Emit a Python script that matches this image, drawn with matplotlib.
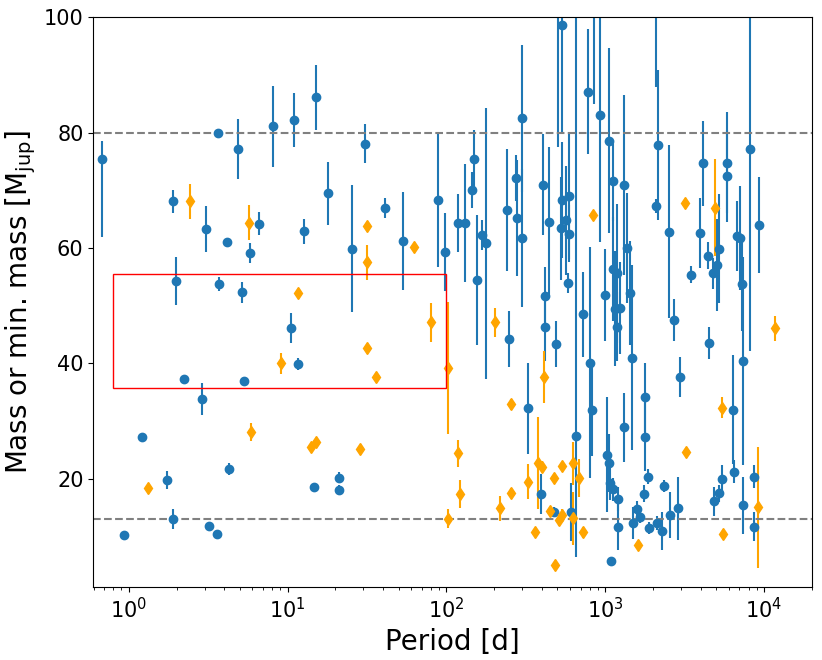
import numpy as np
import matplotlib
matplotlib.use("Agg")
import matplotlib.pyplot as plt
from matplotlib.patches import Rectangle

# companions with a measured mass (blue) -- period [d], mass [Mjup], lower/upper error
blue_period = [0.675, 1.89, 3.06, 4.15, 3.66, 4.89, 6.61, 5.82, 8.05, 11.0,
               15.1, 17.9, 12.7, 30.6, 25.3, 40.9, 53.1, 88.2, 98.4, 1.98,
               3.68, 5.18, 10.5, 11.7, 2.22, 5.29, 2.90, 1.22, 4.27, 1.75,
               14.6, 21.2, 21.2, 1.89, 0.94, 3.20, 3.58,
               119, 131, 149, 146, 157, 167, 177, 240, 276, 278,
               301, 301, 249, 325, 408, 443, 416, 416, 396, 476,
               490, 537, 507, 534, 527, 566, 594, 594, 581, 655,
               612, 725, 783, 850, 806, 832, 923, 997, 1022, 1061,
               1077, 1128, 1205, 1210, 1083, 1052, 1119, 1312, 1377, 1153,
               1245, 1186, 1125, 1181, 1443, 1485, 1312, 1773, 1773, 1490,
               1592, 1656, 1762, 1868, 1900, 2110, 2289, 2356, 2558, 2885,
               2088, 2142, 2080, 2523, 2700, 2958, 3468, 3936, 4147, 4460,
               4485, 4797, 5083, 5229, 4820, 5207, 5463, 5870, 5870, 6790,
               7093, 6350, 6500, 7340, 7263, 7375, 8200, 8690, 8690, 9340]
blue_mass = [75.5, 68.1, 63.3, 61.0, 80.0, 77.1, 64.2, 59.1, 81.1, 82.2,
             86.1, 69.5, 62.9, 78.1, 59.9, 66.9, 61.3, 68.3, 59.3, 54.3,
             53.8, 52.3, 46.1, 39.9, 37.3, 36.9, 33.8, 27.3, 21.7, 19.8,
             18.6, 20.2, 18.1, 13.0, 10.2, 11.9, 10.5,
             64.3, 64.3, 75.4, 70.0, 54.5, 62.2, 60.8, 66.6, 72.2, 65.2,
             82.5, 61.7, 44.2, 32.2, 71.0, 64.5, 51.7, 46.4, 17.4, 14.3,
             43.3, 98.7, 104, 68.3, 63.4, 64.8, 69.1, 62.5, 53.9, 27.5,
             14.3, 48.5, 87.1, 105, 40.1, 32.0, 83.0, 51.9, 24.2, 22.7,
             19.3, 18.2, 16.5, 11.6, 5.8, 78.6, 71.7, 70.9, 60.0, 49.5,
             49.6, 46.4, 56.3, 55.6, 52.2, 41.0, 28.9, 34.1, 27.3, 12.3,
             14.7, 13.4, 17.4, 20.4, 11.5, 12.4, 11.0, 18.8, 13.7, 14.9,
             67.3, 77.8, 108, 62.8, 47.5, 37.7, 55.4, 62.6, 74.7, 58.7,
             43.5, 55.6, 57.1, 59.9, 16.1, 17.5, 19.9, 74.8, 72.5, 62.1,
             61.7, 32.0, 21.2, 40.4, 53.7, 15.4, 77.1, 20.4, 11.7, 64.0]
blue_err_lo = [13.6, 2.0, 4.0, 0.6, 0.5, 5.2, 2.0, 1.7, 7.0, 4.6,
               5.7, 5.5, 2.2, 3.4, 11.0, 1.7, 8.5, 11.6, 6.8, 4.2,
               1.2, 1.8, 2.6, 1.0, 0.6, 0.8, 2.8, 0.3, 1.0, 1.6,
               0.3, 1.0, 0.8, 1.7, 0.3, 0.3, 0.3,
               5.0, 10.2, 5.0, 3.1, 11.3, 2.6, 23.5, 10.5, 4.0, 10.0,
               12.7, 12.0, 4.9, 7.9, 8.8, 13.0, 5.0, 6.0, 3.5, 0.8,
               4.0, 19.0, 26.5, 10.0, 9.0, 9.4, 11.0, 5.0, 1.7, 21.0,
               5.0, 7.4, 10.8, 20.0, 20.0, 8.0, 22.0, 8.0, 10.0, 5.0,
               3.0, 2.0, 2.0, 4.0, 0.3, 16.0, 7.0, 15.6, 9.5, 10.0,
               8.0, 6.0, 9.0, 12.0, 9.0, 16.0, 6.0, 6.0, 6.0, 2.8,
               1.5, 1.0, 1.5, 1.3, 1.0, 1.2, 3.3, 1.0, 4.0, 5.5,
               1.2, 13.0, 20.0, 15.0, 3.6, 3.5, 1.5, 6.0, 7.4, 2.4,
               2.8, 2.7, 8.0, 9.4, 2.5, 1.5, 2.5, 8.8, 8.0, 6.0,
               9.0, 9.4, 2.0, 18.0, 8.0, 5.0, 35.0, 2.0, 2.5, 8.4]
blue_err_hi = [3.0, 2.0, 4.0, 0.6, 0.5, 5.2, 2.0, 1.7, 7.0, 4.6,
               5.7, 5.5, 2.2, 3.4, 11.0, 1.7, 8.5, 11.6, 6.8, 4.2,
               1.2, 1.8, 2.6, 1.0, 0.6, 0.8, 2.8, 0.3, 1.0, 1.6,
               0.3, 1.0, 0.8, 1.7, 0.3, 0.3, 0.3,
               5.0, 10.2, 5.0, 3.1, 11.3, 2.6, 23.5, 10.5, 4.0, 10.0,
               12.7, 12.0, 4.9, 7.9, 8.8, 13.0, 5.0, 6.0, 3.5, 0.8,
               4.0, 19.0, 26.5, 10.0, 9.0, 9.4, 11.0, 5.0, 1.7, 75.0,
               5.0, 7.4, 10.8, 20.0, 20.0, 8.0, 22.0, 8.0, 10.0, 5.0,
               3.0, 2.0, 2.0, 4.0, 0.3, 16.0, 7.0, 15.6, 9.5, 10.0,
               8.0, 6.0, 9.0, 12.0, 9.0, 16.0, 6.0, 6.0, 6.0, 2.8,
               1.5, 1.0, 1.5, 1.3, 1.0, 1.2, 3.3, 1.0, 4.0, 5.5,
               1.2, 13.0, 20.0, 15.0, 3.6, 3.5, 1.5, 6.0, 7.4, 2.4,
               2.8, 2.7, 8.0, 9.4, 2.5, 1.5, 2.5, 8.8, 8.0, 6.0,
               9.0, 9.4, 2.0, 18.0, 8.0, 5.0, 35.0, 2.0, 2.5, 8.4]

# companions with only a minimum mass (orange)
orange_period = [2.43, 5.71, 31.6, 31.6, 62.8, 11.6, 9.05, 31.6, 36.0, 79.6,
                 103, 5.91, 14.1, 15.1, 28.6, 1.33, 103, 118, 122, 203,
                 254, 218, 256, 326, 379, 398, 414, 363, 449, 474,
                 534, 485, 514, 534, 630, 681, 630, 721, 841, 1616,
                 3168, 3214, 4935, 5463, 5546, 9120, 11670]
orange_mass = [68.1, 64.4, 63.9, 57.5, 60.1, 52.2, 40.0, 42.7, 37.7, 47.1,
               39.2, 28.1, 25.6, 26.3, 25.1, 18.4, 13.1, 24.4, 17.4, 47.1,
               32.9, 14.9, 17.6, 19.5, 22.8, 22.1, 37.7, 10.7, 14.4, 20.1,
               22.3, 5.1, 12.8, 13.8, 22.7, 20.1, 13.2, 10.7, 65.8, 8.6,
               67.8, 24.7, 67.0, 32.3, 10.5, 15.1, 46.1]
orange_err = [3.0, 3.0, 0.6, 3.0, 0.5, 0.5, 1.8, 0.6, 0.6, 3.4,
              11.5, 1.5, 0.5, 0.5, 0.5, 0.6, 1.6, 2.4, 2.4, 2.5,
              1.0, 2.2, 0.8, 3.0, 8.0, 1.0, 4.5, 0.5, 0.5, 0.6,
              0.6, 0.5, 1.0, 1.0, 3.7, 3.3, 4.6, 1.0, 0.6, 0.6,
              0.6, 0.6, 8.4, 1.8, 0.6, 10.5, 2.2]

hbm_limit = 80
deut_limit = 13
box_period = (0.8, 100)
box_mass = (35.7, 55.5)

fig = plt.figure(figsize=(8.22, 6.6), dpi=100)
ax = fig.add_axes([0.1135, 0.1102, 0.8747, 0.8636])

ax.errorbar(blue_period, blue_mass, yerr=[blue_err_lo, blue_err_hi],
            fmt='o', color='#1f77b4', markersize=6)
ax.errorbar(orange_period, orange_mass, yerr=orange_err,
            fmt='d', color='orange', markersize=6)

ax.axhline(hbm_limit, color='grey', ls='--', lw=1.5)
ax.axhline(deut_limit, color='grey', ls='--', lw=1.5)

ax.add_patch(Rectangle((box_period[0], box_mass[0]),
                       box_period[1] - box_period[0], box_mass[1] - box_mass[0],
                       fill=False, edgecolor='red', lw=1.0, zorder=3))

ax.set_xscale('log')
ax.set_xlim(0.598, 20150)
ax.set_ylim(1.2, 100)
ax.set_xlabel('Period [d]', fontsize=20)
ax.set_ylabel(r'Mass or min. mass [M$_{\rm jup}$]', fontsize=20)
ax.tick_params(axis='both', labelsize=15)

fig.savefig('out.png', dpi=100)
